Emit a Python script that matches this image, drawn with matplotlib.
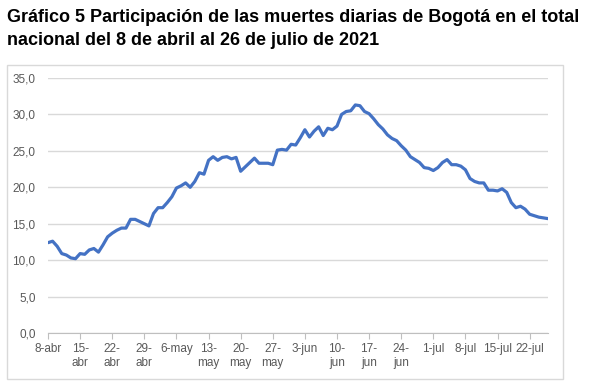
import matplotlib
matplotlib.use("Agg")
import matplotlib.pyplot as plt
from matplotlib.patches import Rectangle
import numpy as np

# participacion diaria (%) desde 8-abr hasta 26-jul
valores = [12.4, 12.6, 11.9, 10.9, 10.7, 10.3, 10.2, 10.9, 10.8, 11.4,
           11.6, 11.1, 12.1, 13.2, 13.7, 14.1, 14.4, 14.4, 15.6, 15.6,
           15.3, 15.0, 14.7, 16.4, 17.2, 17.2, 17.9, 18.7, 19.9, 20.2,
           20.6, 20.0, 20.8, 22.0, 21.8, 23.7, 24.2, 23.7, 24.1, 24.2,
           23.9, 24.1, 22.2, 22.8, 23.4, 24.0, 23.3, 23.3, 23.3, 23.1,
           25.1, 25.2, 25.1, 25.9, 25.8, 26.8, 27.9, 26.9, 27.7, 28.3,
           27.1, 28.1, 27.9, 28.4, 30.0, 30.4, 30.5, 31.3, 31.2, 30.4,
           30.1, 29.4, 28.6, 28.0, 27.2, 26.7, 26.4, 25.7, 25.1, 24.2,
           23.8, 23.4, 22.7, 22.6, 22.3, 22.7, 23.4, 23.8, 23.1, 23.1,
           22.9, 22.4, 21.2, 20.8, 20.6, 20.6, 19.6, 19.6, 19.5, 19.8,
           19.3, 17.9, 17.2, 17.4, 17.0, 16.3, 16.1, 15.9, 15.8, 15.7]
etiquetas_x = ["8-abr", "15-\nabr", "22-\nabr", "29-\nabr", "6-may", "13-\nmay",
               "20-\nmay", "27-\nmay", "3-jun", "10-\njun", "17-\njun", "24-\njun",
               "1-jul", "8-jul", "15-jul", "22-jul"]
yticks = [0, 5, 10, 15, 20, 25, 30, 35]
titulo = ("Gráfico 5 Participación de las muertes diarias de Bogotá en el total\n"
          "nacional del 8 de abril al 26 de julio de 2021")

plt.rcParams['font.family'] = ['Liberation Sans', 'DejaVu Sans']

W, H = 608, 391
fig = plt.figure(figsize=(W / 100, H / 100), dpi=100)

# marco del grafico
fig.patches.append(Rectangle((7 / W, 1 - 379 / H), 556 / W, 314 / H,
                             transform=fig.transFigure, fill=False,
                             edgecolor='#D9D9D9', linewidth=1))

fig.text(7 / W, 1 - 9 / H, titulo, ha='left', va='top', fontsize=13,
         fontweight='bold', color='black', linespacing=1.45)

ax = fig.add_axes([48 / W, 1 - 333 / H, 500 / W, 255 / H])
x = np.arange(len(valores))
ax.plot(x, valores, color='#4472C4', linewidth=2.3, solid_capstyle='round')

ax.set_xlim(0, len(valores) - 1)
ax.set_ylim(0, 35)
ax.set_yticks(yticks)
ax.set_yticklabels([("%.1f" % v).replace('.', ',') for v in yticks])
ax.set_xticks(np.arange(0, len(valores), 7))
ax.set_xticklabels(etiquetas_x)

ax.grid(axis='y', color='#D9D9D9', linewidth=1)
ax.set_axisbelow(True)
for s in ['top', 'right', 'left']:
    ax.spines[s].set_visible(False)
ax.spines['bottom'].set_color('#BFBFBF')
ax.tick_params(axis='y', length=0, pad=9, labelsize=8.5, labelcolor='#595959')
ax.tick_params(axis='x', length=4, color='#BFBFBF', pad=3, labelsize=8.5,
               labelcolor='#595959')
for t in ax.get_xticklabels():
    t.set_linespacing(1.3)

fig.savefig("out.png", dpi=100)
